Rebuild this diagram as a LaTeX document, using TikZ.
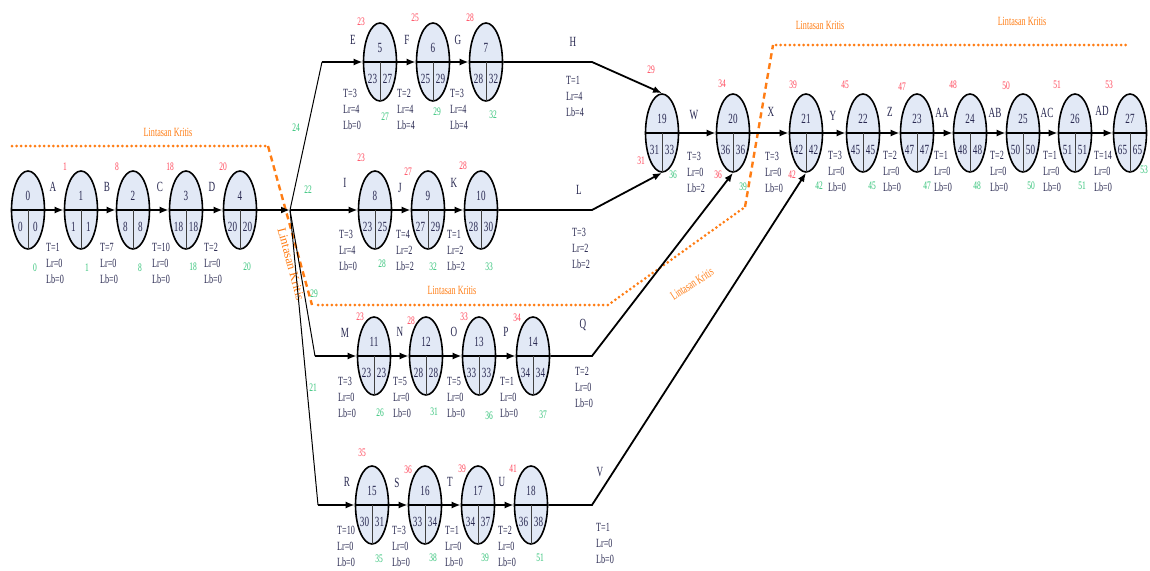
\documentclass[tikz,border=0pt]{standalone}
\usepackage{fontspec}
\setmainfont{Liberation Serif}[FakeStretch=0.65]
\newfontfamily\plainserif{Liberation Serif}
\usetikzlibrary{shapes.geometric,arrows.meta}
\definecolor{crit}{RGB}{255,125,20}
\definecolor{esred}{RGB}{255,70,90}
\definecolor{lfgreen}{RGB}{50,195,120}
\definecolor{ink}{RGB}{40,40,80}
\definecolor{evfill}{RGB}{226,233,246}
% event node: name, x, y, number, left, right
\newcommand\evt[6]{%
  \node[ev] (#1) at (#2,#3) {};
  \draw[div] (#1.west) -- (#1.east);
  \draw[vdiv] (#1.center) -- (#1.south);
  \node[evnum] (#1t) at ([yshift=14pt]#1.center) {#4};
  \node[evnum] (#1l) at ([xshift=-7.5pt,yshift=-17pt]#1.center) {#5};
  \node[evnum] (#1r) at ([xshift=7.5pt,yshift=-17pt]#1.center) {#6};
}
% activity: name, label pos, label, info x, info y, T, Lr, Lb
\newcommand\act[8]{%
  \node[actlab] (#1) at (#2) {#3};
  \node[info] (#1a) at (#4,#5+4) {T=#6};
  \node[info] (#1b) at (#4,#5+20) {Lr=#7};
  \node[info] (#1c) at (#4,#5+36) {Lb=#8};
}
\begin{document}
\begin{tikzpicture}[x=1pt,y=-1pt,
  ev/.style={ellipse, draw=black, line width=1.6pt, fill=evfill,
    minimum width=33pt, minimum height=78pt, inner sep=0pt},
  div/.style={line width=1.8pt},
  vdiv/.style={line width=1pt, draw=black!75},
  evnum/.style={font=\fontsize{14}{14}\selectfont, text=ink, inner sep=0pt},
  actlab/.style={font=\fontsize{14}{14}\selectfont, text=ink, inner sep=0pt},
  info/.style={font=\fontsize{12.5}{12.5}\selectfont, text=ink, inner sep=0pt, anchor=base west},
  esnum/.style={font=\fontsize{11.5}{11.5}\selectfont, text=esred, inner sep=0pt},
  lfnum/.style={font=\fontsize{11.5}{11.5}\selectfont, text=lfgreen, inner sep=0pt},
  arr/.style={line width=1.8pt, -{Latex[length=9pt,width=7pt]}},
  jline/.style={line width=1pt},
  critdot/.style={draw=crit, line width=3pt, line cap=round, dash pattern=on 0pt off 4.6pt},
  critdash/.style={draw=crit, line width=2.4pt, dash pattern=on 6pt off 4pt},
  crittext/.style={font=\fontsize{12.5}{12.5}\selectfont, text=crit, inner sep=0pt}
]
\useasboundingbox[fill=white] (0,0) rectangle (1150,570);

% critical path
\draw[critdot] (12,146) -- (268,146);
\draw[critdash] (268,146) -- (312,305);
\draw[critdot] (318,305) -- (608,305) -- (745,207);
\draw[critdash] (745,207) -- (773,45);
\draw[critdot] (776,45) -- (1130,45);
\node[crittext] (ck1) at (168,132) {Lintasan Kritis};
\node[crittext] (ck2) at (452,290) {Lintasan Kritis};
\node[crittext] (ck3) at (820,25) {Lintasan Kritis};
\node[crittext] (ck4) at (1022,21) {Lintasan Kritis};
\node[crittext, font=\plainserif\fontsize{12.5}{12.5}\selectfont, rotate=-75] (ck5) at (291,264) {Lintasan Kritis};
\node[crittext, rotate=33] (ck6) at (692,284) {Lintasan Kritis};

% events
\evt{n0}{28}{210}{0}{0}{0}
\evt{n1}{81}{210}{1}{1}{1}
\evt{n2}{133}{210}{2}{8}{8}
\evt{n3}{186}{210}{3}{18}{18}
\evt{n4}{240}{210}{4}{20}{20}
\evt{n5}{380}{62}{5}{23}{27}
\evt{n6}{433}{62}{6}{25}{29}
\evt{n7}{486}{62}{7}{28}{32}
\evt{n8}{375}{210}{8}{23}{25}
\evt{n9}{428}{210}{9}{27}{29}
\evt{n10}{481}{210}{10}{28}{30}
\evt{n11}{374}{356}{11}{23}{23}
\evt{n12}{426}{356}{12}{28}{28}
\evt{n13}{479}{356}{13}{33}{33}
\evt{n14}{533}{356}{14}{34}{34}
\evt{n15}{372}{505}{15}{30}{31}
\evt{n16}{425}{505}{16}{33}{34}
\evt{n17}{478}{505}{17}{34}{37}
\evt{n18}{531}{505}{18}{36}{38}
\evt{n19}{662}{133}{19}{31}{33}
\evt{n20}{733}{133}{20}{36}{36}
\evt{n21}{806}{133}{21}{42}{42}
\evt{n22}{863}{133}{22}{45}{45}
\evt{n23}{917}{133}{23}{47}{47}
\evt{n24}{970}{133}{24}{48}{48}
\evt{n25}{1023}{133}{25}{50}{50}
\evt{n26}{1075}{133}{26}{51}{51}
\evt{n27}{1130}{133}{27}{65}{65}

% bend points
\coordinate (j) at (290,210);
\coordinate (b1) at (322,62);
\coordinate (b3) at (315,356);
\coordinate (b4) at (318,505);
\coordinate (bh) at (592,62);
\coordinate (bl) at (592,210);
\coordinate (bq) at (592,356);
\coordinate (bv) at (592,505);

% connectors
\draw[arr] (n0.east) -- (n1.west);
\draw[arr] (n1.east) -- (n2.west);
\draw[arr] (n2.east) -- (n3.west);
\draw[arr] (n3.east) -- (n4.west);
\draw[arr] (n4.east) -- (j);
\draw[jline] (j) -- (b1);
\draw[arr] (b1) -- (n5.west);
\draw[arr] (j) -- (n8.west);
\draw[jline] (j) -- (b3);
\draw[arr] (b3) -- (n11.west);
\draw[jline] (j) -- (b4);
\draw[arr] (b4) -- (n15.west);
\draw[arr] (n5.east) -- (n6.west);
\draw[arr] (n6.east) -- (n7.west);
\draw[arr] (n7.east) -- (bh) -- (n19.north);
\draw[arr] (n8.east) -- (n9.west);
\draw[arr] (n9.east) -- (n10.west);
\draw[arr] (n10.east) -- (bl) -- (n19.south);
\draw[arr] (n11.east) -- (n12.west);
\draw[arr] (n12.east) -- (n13.west);
\draw[arr] (n13.east) -- (n14.west);
\draw[arr] (n14.east) -- (bq) -- (n20.south);
\draw[arr] (n15.east) -- (n16.west);
\draw[arr] (n16.east) -- (n17.west);
\draw[arr] (n17.east) -- (n18.west);
\draw[arr] (n18.east) -- (bv) -- (n21.south);
\draw[arr] (n19.east) -- (n20.west);
\draw[arr] (n20.east) -- (n21.west);
\draw[arr] (n21.east) -- (n22.west);
\draw[arr] (n22.east) -- (n23.west);
\draw[arr] (n23.east) -- (n24.west);
\draw[arr] (n24.east) -- (n25.west);
\draw[arr] (n25.east) -- (n26.west);
\draw[arr] (n26.east) -- (n27.west);

% activities
\act{aA}{53,187}{A}{46}{247}{1}{0}{0}
\act{aB}{107,187}{B}{100}{247}{7}{0}{0}
\act{aC}{160,187}{C}{152}{247}{10}{0}{0}
\act{aD}{212,187}{D}{204}{247}{2}{0}{0}
\act{aE}{353,40}{E}{343}{93}{3}{4}{0}
\act{aF}{407,40}{F}{397}{93}{2}{4}{4}
\act{aG}{458,40}{G}{450}{93}{3}{4}{4}
\act{aH}{573,42}{H}{566}{80}{1}{4}{4}
\act{aI}{345,183}{I}{339}{234}{3}{4}{0}
\act{aJ}{400,188}{J}{396}{234}{4}{2}{2}
\act{aK}{454,183}{K}{447}{234}{1}{2}{2}
\act{aL}{579,190}{L}{572}{232}{3}{2}{2}
\act{aM}{345,333}{M}{338}{381}{3}{0}{0}
\act{aN}{400,332}{N}{393}{381}{5}{0}{0}
\act{aO}{454,332}{O}{447}{381}{5}{0}{0}
\act{aP}{506,332}{P}{500}{381}{1}{0}{0}
\act{aQ}{583,325}{Q}{575}{371}{2}{0}{0}
\act{aR}{347,482}{R}{337}{530}{10}{0}{0}
\act{aS}{397,483}{S}{392}{530}{3}{0}{0}
\act{aT}{450,482}{T}{445}{530}{1}{0}{0}
\act{aU}{502,482}{U}{498}{530}{2}{0}{0}
\act{aV}{600,472}{V}{596}{527}{1}{0}{0}
\act{aW}{694,115}{W}{687}{156}{3}{0}{2}
\act{aX}{771,112}{X}{765}{156}{3}{0}{0}
\act{aY}{833,116}{Y}{828}{155}{3}{0}{0}
\act{aZ}{890,112}{Z}{883}{155}{2}{0}{0}
\act{aAA}{942,113}{AA}{934}{155}{1}{0}{0}
\act{aAB}{995,113}{AB}{990}{155}{2}{0}{0}
\act{aAC}{1047,113}{AC}{1043}{155}{1}{0}{0}
\act{aAD}{1102,111}{AD}{1094}{155}{14}{0}{0}

% earliest times (red)
\foreach \k/\x/\y/\t in {1/65/167/1, 2/117/167/8, 3/170/167/18, 4/223/167/20,
  5/361/22/23, 6/415/18/25, 7/470/18/28,
  8/361/158/23, 9/408/172/27, 10/463/166/28,
  11/360/317/23, 12/411/321/28, 13/464/317/33, 14/517/318/34,
  15/362/453/35, 16/408/470/36, 17/462/469/39, 18/513/469/41,
  19/651/70/29, 19b/641/161/31, 20/722/84/34, 20b/718/175/36,
  21/793/85/39, 21b/792/175/42,
  22/845/85/45, 23/902/87/47, 24/953/85/48, 25/1006/86/50, 26/1057/85/51, 27/1109/85/53}
  \node[esnum] (es\k) at (\x,\y) {\t};

% latest times (green)
\foreach \k/\x/\y/\t in {0/35/268/0, 1/87/268/1, 2/140/268/8, 3/193/267/18, 4/247/267/20,
  j1/296/128/24, j2/308/190/22, j3/314/294/29, j4/313/388/21,
  5/385/117/27, 6/437/112/29, 7/493/115/32,
  8/382/264/28, 9/433/267/32, 10/489/267/33,
  11/380/413/26, 12/434/412/31, 13/489/416/36, 14/543/415/37,
  15/379/559/35, 16/433/558/38, 17/485/558/39, 18/540/558/51,
  19/673/175/36, 20/743/187/39,
  21/819/186/42, 22/872/186/45, 23/927/186/47, 24/977/186/48, 25/1031/186/50,
  26/1082/186/51, 27/1144/170/53}
  \node[lfnum] (lf\k) at (\x,\y) {\t};
\end{tikzpicture}
\end{document}
